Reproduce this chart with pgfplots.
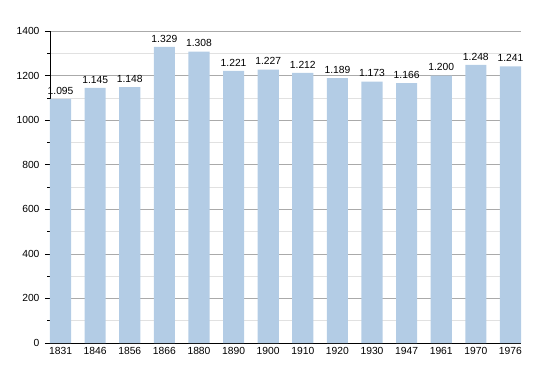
\documentclass[border=0pt]{standalone}
\usepackage{pgfplots}
\pgfplotsset{compat=1.18}
\usepackage{pgfplotstable}
\usepackage{fontspec}
\setmainfont{Liberation Sans}
\definecolor{barblue}{RGB}{179,204,229}
\definecolor{majgrid}{RGB}{170,170,170}
\definecolor{mingrid}{RGB}{225,225,225}
\pgfplotstableread{
x y lab
0 1095 1.095
1 1145 1.145
2 1148 1.148
3 1329 1.329
4 1308 1.308
5 1221 1.221
6 1227 1.227
7 1212 1.212
8 1189 1.189
9 1173 1.173
10 1166 1.166
11 1200 1.200
12 1248 1.248
13 1241 1.241
}\pop
\begin{document}
\begin{tikzpicture}
\useasboundingbox (-50pt,-30pt) rectangle (500pt,343pt);
\begin{axis}[
  at={(0pt,0pt)}, anchor=south west,
  scale only axis, width=471pt, height=312pt,
  xmin=-0.305, xmax=13.305, ymin=0, ymax=1400,
  axis lines*=left,
  axis line style={black, line width=0.8pt},
  xtick=data,
  xticklabels={1831,1846,1856,1866,1880,1890,1900,1910,1920,1930,1947,1961,1970,1976},
  x tick style={draw=none},
  ytick={0,200,...,1400},
  minor ytick={100,300,...,1300},
  ytick align=outside, tick pos=left,
  major tick length=5pt, minor tick length=2.5pt,
  y tick style={black, line width=0.6pt},
  ymajorgrids, yminorgrids,
  major grid style={majgrid, line width=0.6pt},
  minor grid style={mingrid, line width=0.6pt},
  tick label style={font=\fontsize{10.3}{12}\selectfont},
  /pgf/number format/assume math mode=true,
  /pgf/number format/use comma=false,
  /pgf/number format/1000 sep={},
  yticklabel style={xshift=-2pt},
  xticklabel style={yshift=-1pt},
  axis on top=false,
]
\addplot[ybar, bar width=0.61, fill=barblue, draw=none,
  nodes near coords, point meta=explicit symbolic,
  every node near coord/.style={font=\fontsize{10.3}{12}\selectfont, black, inner sep=1.5pt, yshift=3pt}]
  table[x=x, y=y, meta=lab] {\pop};
\end{axis}
\end{tikzpicture}
\end{document}
